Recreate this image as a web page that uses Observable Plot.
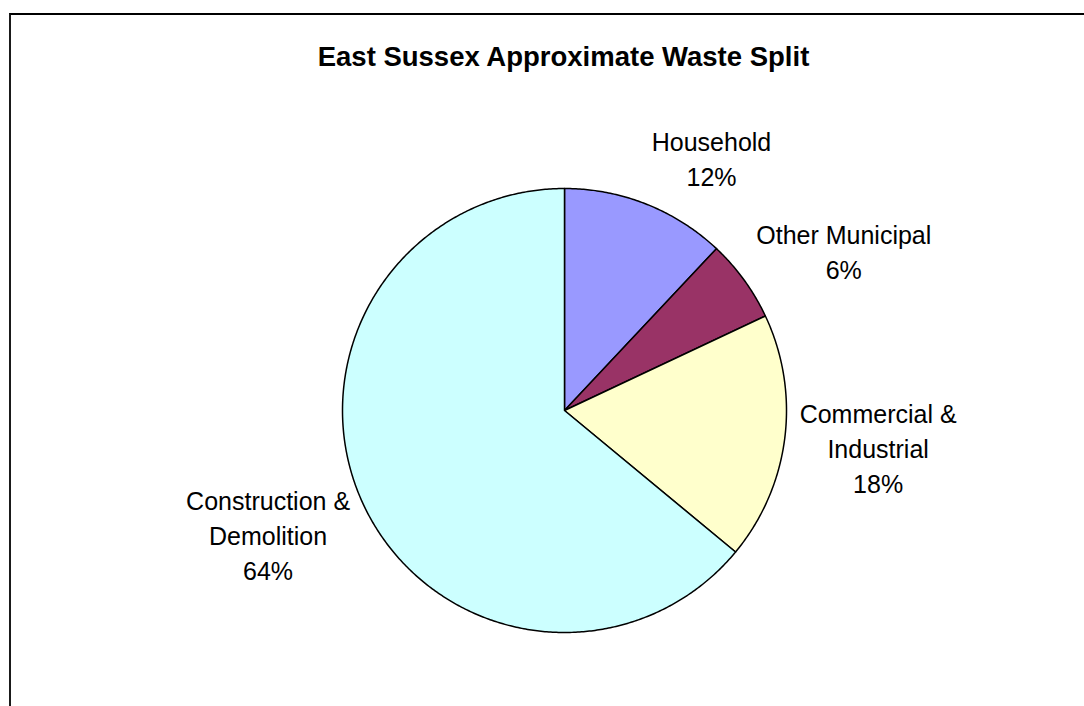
<!DOCTYPE html>
<html><head>
<meta charset="utf-8">
<script src="https://cdn.jsdelivr.net/npm/d3@7"></script>
<script src="https://cdn.jsdelivr.net/npm/@observablehq/plot@0.6"></script>
<style>
body{margin:0;background:#fff;font-family:"Liberation Sans",Arial,sans-serif;}
#frame{position:absolute;left:9px;top:13px;width:1200px;height:800px;border-top:2px solid #000;border-left:2px solid #1a1a1a;}
#title{position:absolute;left:0;width:1127px;top:41px;text-align:center;font-weight:bold;font-size:27.5px;color:#000;}
#chart{position:absolute;left:0;top:0;}
</style></head><body>
<div id="frame"></div>
<div id="title"></div>
<div id="chart"></div>
<script>
const title = "East Sussex Approximate Waste Split";
const categories = ["Household", "Other Municipal", "Commercial & Industrial", "Construction & Demolition"];
const labelLines = [["Household"], ["Other Municipal"], ["Commercial &", "Industrial"], ["Construction &", "Demolition"]];
const values = [12, 6, 18, 64];
const colors = ["#9999FF", "#993366", "#FFFFCC", "#CCFFFF"];

document.getElementById("title").textContent = title;

const W = 1084, H = 706;
const cx = 564, cy = 410, r = 222;
const fontSize = 25, lineH = 35, gap = 15;

const arcs = d3.pie().sort(null).value(d => d)(values);

// slice outlines in unit coordinates
const slices = [];
arcs.forEach((a, i) => {
  const cat = categories[i];
  slices.push({cat, x: 0, y: 0});
  const n = Math.max(2, Math.ceil((a.endAngle - a.startAngle) / (Math.PI / 360)));
  for (let k = 0; k <= n; k++) {
    const t = a.startAngle + (a.endAngle - a.startAngle) * k / n;
    slices.push({cat, x: Math.sin(t), y: Math.cos(t)});
  }
});

// label placement (Excel-like outside labels)
const ctx = document.createElement("canvas").getContext("2d");
ctx.font = `${fontSize}px "Liberation Sans", Arial, sans-serif`;
const labels = arcs.map((a, i) => {
  const lines = [...labelLines[i], `${values[i]}%`];
  const w = Math.max(...lines.map(s => ctx.measureText(s).width));
  const h = lines.length * lineH;
  const m = (a.startAngle + a.endAngle) / 2;
  const ax = cx + (r + gap) * Math.sin(m);
  const ay = cy - (r + gap) * Math.cos(m);
  const px = ax + Math.sign(Math.sin(m)) * w / 2;
  const py = ay - Math.cos(m) * h / 2;
  return {text: lines.join("\n"), x: (px - cx) / r, y: (cy - py) / r};
});

const chart = Plot.plot({
  width: W, height: H,
  margin: 0,
  x: {domain: [-1, 1], range: [cx - r, cx + r], axis: null},
  y: {domain: [-1, 1], range: [cy + r, cy - r], axis: null},
  color: {domain: categories, range: colors},
  style: {background: "transparent", fontFamily: '"Liberation Sans", Arial, sans-serif'},
  marks: [
    Plot.line(slices, {x: "x", y: "y", z: "cat", fill: "cat", stroke: "#000", strokeWidth: 1.5, curve: "linear-closed", strokeLinejoin: "round"}),
    Plot.text(labels, {x: "x", y: "y", text: "text", fontSize, lineHeight: lineH / fontSize, textAnchor: "middle", lineAnchor: "middle", fill: "#000"})
  ]
});
document.getElementById("chart").appendChild(chart);
</script>
</body></html>
